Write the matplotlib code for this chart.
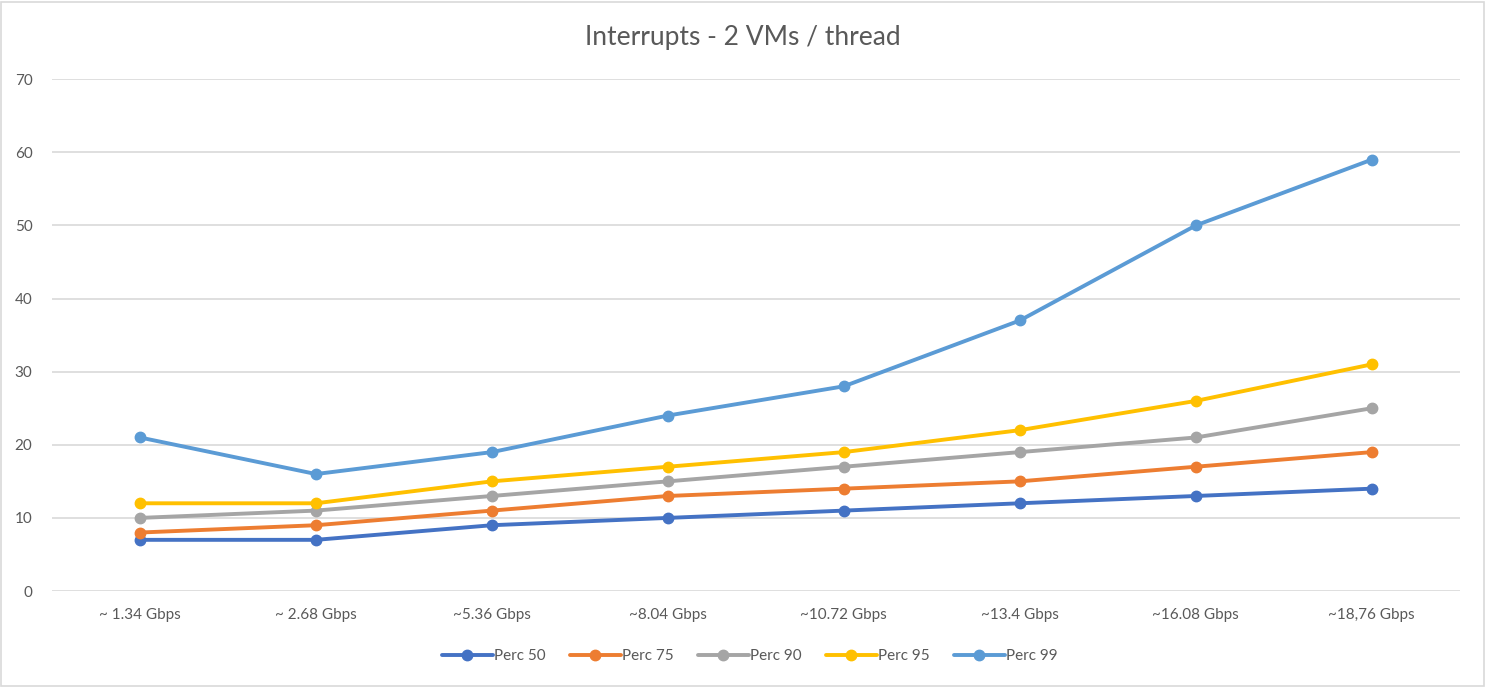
import matplotlib.pyplot as plt
from matplotlib.patches import Rectangle

# categories and series
categories = ["~ 1.34 Gbps", "~ 2.68 Gbps", "~5.36 Gbps", "~8.04 Gbps",
              "~10.72 Gbps", "~13.4 Gbps", "~16.08 Gbps", "~18,76 Gbps"]
perc50 = [7, 7, 9, 10, 11, 12, 13, 14]
perc75 = [8, 9, 11, 13, 14, 15, 17, 19]
perc90 = [10, 11, 13, 15, 17, 19, 21, 25]
perc95 = [12, 12, 15, 17, 19, 22, 26, 31]
perc99 = [21, 16, 19, 24, 28, 37, 50, 59]

series = [
    ("Perc 50", perc50, "#4472C4"),
    ("Perc 75", perc75, "#ED7D31"),
    ("Perc 90", perc90, "#A5A5A5"),
    ("Perc 95", perc95, "#FFC000"),
    ("Perc 99", perc99, "#5B9BD5"),
]

plt.rcParams['font.family'] = ['Lato', 'DejaVu Sans']
text_color = "#595959"

fig = plt.figure(figsize=(14.85, 6.87), dpi=100)
ax = fig.add_axes([0.035, 0.1397, 0.948, 0.745])

x = range(len(categories))
for name, vals, color in series:
    ax.plot(x, vals, color=color, linewidth=2.8, marker="o", markersize=7.5,
            label=name, solid_capstyle="round")

ax.set_xlim(-0.5, len(categories) - 0.5)
ax.set_ylim(0, 70)
ax.set_yticks(range(0, 71, 10))
ax.set_xticks(list(x))
ax.set_xticklabels(categories)
ax.grid(axis="y", color="#D9D9D9", linewidth=1.2)
ax.set_axisbelow(True)
for s in ax.spines.values():
    s.set_visible(False)
ax.tick_params(length=0, colors=text_color, labelsize=11)
ax.tick_params(axis="x", pad=12)
ax.tick_params(axis="y", pad=14)

fig.text(0.5, 0.946, "Interrupts - 2 VMs / thread", ha="center", va="center",
         fontsize=19, color=text_color)

leg = fig.legend(loc="center", bbox_to_anchor=(0.505, 0.045), ncol=5,
                 frameon=False, fontsize=11, handlelength=3.3,
                 handletextpad=0.1, columnspacing=1.6)
for t in leg.get_texts():
    t.set_color(text_color)

# light frame around the chart area
fig.patches.append(Rectangle((0.001, 0.002), 0.998, 0.995, transform=fig.transFigure,
                             fill=False, edgecolor="#D9D9D9", linewidth=1.2))

fig.savefig("out.png", dpi=100)
